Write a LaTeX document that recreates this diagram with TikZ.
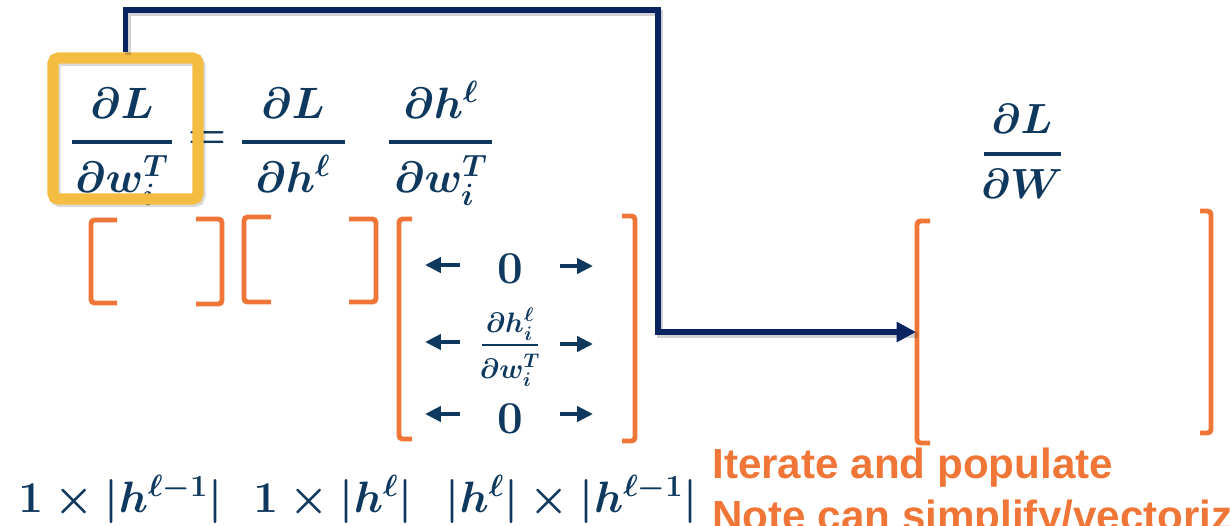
\RequirePackage{fix-cm}
\documentclass[tikz,border=0pt]{standalone}
\usepackage[no-math]{fontspec}
\newfontfamily\arialfont{Liberation Sans}
\usetikzlibrary{arrows.meta}
\definecolor{tblue}{RGB}{14,56,94}
\definecolor{cnavy}{RGB}{10,36,98}
\definecolor{orng}{RGB}{240,118,55}
\definecolor{yel}{RGB}{244,189,66}
\tikzset{
  big/.style={text=tblue, inner sep=0pt, font=\fontsize{25}{30}\selectfont\boldmath},
  rbig/.style={text=tblue, inner sep=0pt, font=\fontsize{24}{28}\selectfont\boldmath},
  small/.style={text=tblue, inner sep=0pt, font=\fontsize{16}{19}\selectfont\boldmath},
  zero/.style={text=tblue, inner sep=0pt, font=\fontsize{26}{30}\selectfont\boldmath},
  marr/.style={draw=tblue, line width=2.7pt, -{Triangle[length=9pt,width=8.5pt]}},
  fbar/.style={draw=tblue, line width=2.2pt},
  sbar/.style={draw=tblue, line width=1.2pt},
  brk/.style={draw=orng, line width=2.8pt, rounded corners=2pt},
  conn/.style={draw=cnavy, line width=3pt},
  connshadow/.style={draw=black, opacity=0.18, line width=3.4pt},
  ybox/.style={draw=yel, line width=6.3pt, rounded corners=3pt, minimum width=2.9cm, minimum height=2.82cm, inner sep=0pt},
  note/.style={text=orng, inner sep=0pt, font=\fontsize{24}{29}\selectfont\arialfont\bfseries},
}
\begin{document}
\begin{tikzpicture}[x=0.02cm,y=-0.02cm]
\useasboundingbox (0,0) rectangle (1230,525);
\clip (0,0) rectangle (1230,525);

% --- equation fractions ---
\node[big, anchor=base] (n1) at (122,118) {$\partial L$};
\draw[fbar] (72,142) -- (172,142);
\node[big, anchor=base] (d1) at (122,192) {$\partial w_i^T$};
\node[big] (eq) at (207,140) {$=$};
\node[big, anchor=base] (n2) at (293,118) {$\partial L$};
\draw[fbar] (242,142) -- (345,142);
\node[big, anchor=base] (d2) at (293,192) {$\partial h^{\ell}$};
\node[big, anchor=base] (n3) at (441,118) {$\partial h^{\ell}$};
\draw[fbar] (389,142) -- (492,142);
\node[big, anchor=base] (d3) at (441,192) {$\partial w_i^T$};

% --- right fraction ---
\node[rbig, anchor=base] (n4) at (1022,133) {$\partial L$};
\draw[fbar] (984,154) -- (1061,154);
\node[rbig, anchor=base] (d4) at (1022,198) {$\partial W$};

% --- brackets ---
\draw[brk] (117,220) -- (91,220) -- (91,303) -- (117,303);
\draw[brk] (196,219) -- (222,219) -- (222,304) -- (196,304);
\draw[brk] (271,217) -- (244,217) -- (244,302) -- (271,302);
\draw[brk] (349,219) -- (376,219) -- (376,302) -- (349,302);
\draw[brk] (412,219) -- (399,219) -- (399,439) -- (412,439);
\draw[brk] (622,216) -- (635,216) -- (635,441) -- (622,441);
\draw[brk] (930,221) -- (917,221) -- (917,443) -- (930,443);
\draw[brk] (1200,211) -- (1211,211) -- (1211,433) -- (1200,433);

% --- matrix content ---
\draw[marr] (460,265) -- (425,265);
\node[zero] (z1) at (510,269) {$0$};
\draw[marr] (560,266) -- (593,266);
\draw[marr] (460,342) -- (425,342);
\node[small, anchor=base] (sn) at (510,332) {$\partial h_i^{\ell}$};
\draw[sbar] (482,345) -- (538,345);
\node[small, anchor=base] (sd) at (510,378) {$\partial w_i^T$};
\draw[marr] (560,344) -- (593,344);
\draw[marr] (460,414) -- (425,414);
\node[zero] (z3) at (510,419) {$0$};
\draw[marr] (560,414) -- (593,414);

% --- dimensions ---
\node[big, anchor=base west] (s1) at (18,512) {$1\times|h^{\ell-1}|$};
\node[big, anchor=base west] (s2) at (253,512) {$1\times|h^{\ell}|$};
\node[big, anchor=base east] (s3) at (698,512) {$|h^{\ell}|\times|h^{\ell-1}|$};

% --- note ---
\node[note, anchor=base west] (t1) at (712,478) {Iterate and populate};
\node[note, anchor=base west] (t2) at (712,530) {Note can simplify/vectorize};

% --- highlight box ---
\node[ybox, draw=black, opacity=0.15] (ybs) at (127.5,131) {};
\node[ybox] (yb) at (125.5,128.5) {};

% --- connector ---
\coordinate (turn) at (658,10);
\coordinate (tip) at (916,332);
\draw[connshadow, transform canvas={shift={(1.2pt,-1.5pt)}}] (yb.north) |- (turn) |- (tip);
\draw[conn, -{Triangle[length=11pt,width=11pt]}] (yb.north) |- (turn) |- (tip);
\end{tikzpicture}
\end{document}
